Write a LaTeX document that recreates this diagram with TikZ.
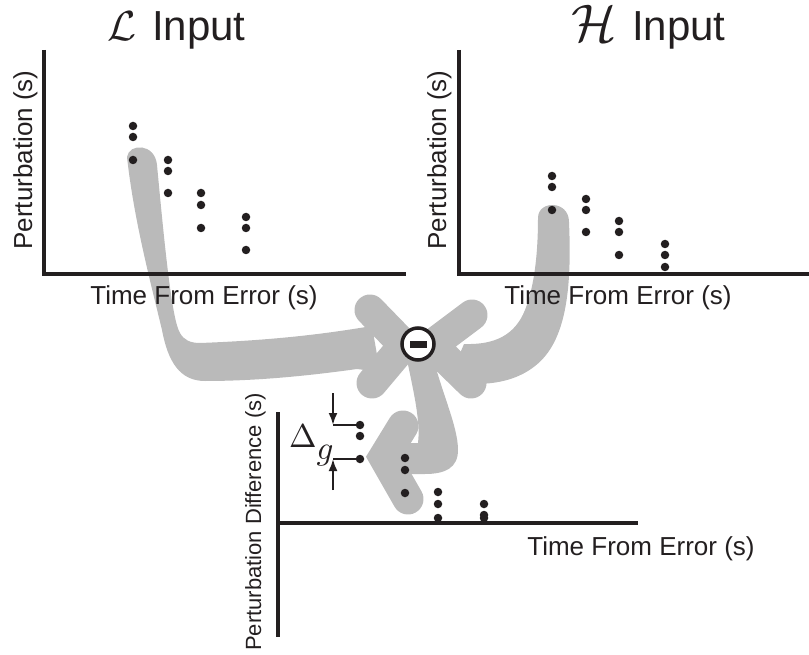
\documentclass[tikz,border=0pt]{standalone}
\usepackage[no-math]{fontspec}
\newfontfamily\lab{Liberation Sans}
\usetikzlibrary{arrows.meta}
\definecolor{ink}{HTML}{231F20}
\definecolor{band}{RGB}{186,186,186}
\begin{document}
\begin{tikzpicture}[x=1pt,y=-1pt,
  dot/.style={circle,fill=ink,inner sep=0pt,minimum size=8.5pt},
  axis/.style={draw=ink,line width=3.5pt,line join=miter},
  lbl/.style={font=\lab\fontsize{26}{30}\selectfont,text=ink,inner sep=0pt},
  smalllbl/.style={font=\lab\fontsize{22}{26}\selectfont,text=ink,inner sep=0pt},
  titlelbl/.style={font=\lab\fontsize{42}{46}\selectfont,text=ink,inner sep=0pt,anchor=base west},
  chev/.style={draw=band,line width=31pt,line cap=round,line join=miter},
  bracket/.style={draw=ink,line width=2.2pt},
  mathlbl/.style={anchor=base west,inner sep=0pt,text=ink},
]
\useasboundingbox (0,0) rectangle (809,655);

% ---------- gray flow arrows (background) ----------
% arrow from L plot
\fill[band] (127,157) .. controls (129,143) and (155,143) .. (157,165)
  .. controls (165,250) and (172,320) .. (180,333)
  .. controls (184,340) and (190,343) .. (200,343)
  .. controls (280,340) and (330,333) .. (372,326)
  -- (380,372) -- (357,369)
  .. controls (300,377) and (250,381) .. (205,381)
  .. controls (180,381) and (168,362) .. (162,330)
  .. controls (150,280) and (134,220) .. (127,157) -- cycle;
\coordinate (c1a) at (370,310);
\coordinate (c1t) at (404,345);
\coordinate (c1b) at (372,383);
\draw[chev] (c1a) -- (c1t) -- (c1b);

% arrow from H plot
\fill[band] (538,218) .. controls (538,200) and (569,200) .. (569,222)
  .. controls (572,290) and (566,342) .. (535,366)
  .. controls (520,378) and (500,384) .. (475,384)
  -- (455,365) -- (464,344)
  .. controls (495,345) and (515,335) .. (525,310)
  .. controls (535,285) and (538,250) .. (538,218) -- cycle;
\coordinate (c2a) at (472,315);
\coordinate (c2t) at (432,345);
\coordinate (c2b) at (471,383);
\draw[chev] (c2a) -- (c2t) -- (c2b);

% arrow to difference plot
\fill[band] (405,350) -- (430,345)
  .. controls (440,390) and (458,425) .. (458,450)
  .. controls (458,468) and (445,474) .. (425,474)
  -- (398,474) -- (398,443) -- (418,443)
  .. controls (421,420) and (412,385) .. (405,350) -- cycle;
\coordinate (c3a) at (403,426);
\coordinate (c3t) at (384,457);
\coordinate (c3b) at (408,499);
\draw[chev] (c3a) -- (c3t) -- (c3b);

% ---------- titles ----------
\node[mathlbl] (tL) at (107,41) {\scalebox{4.2}{$\mathcal{L}$}};
\node[titlelbl] (tLi) at (152,41) {Input};
\node[mathlbl] (tH) at (571,42) {\scalebox{5.3}{$\mathcal{H}$}};
\node[titlelbl] (tHi) at (632,41) {Input};

% ---------- axes ----------
\coordinate (p1top) at (44,50);
\coordinate (p1o) at (44,274);
\coordinate (p1end) at (406,274);
\draw[axis] (p1top) -- (p1o) -- (p1end);

\coordinate (p2top) at (459,50);
\coordinate (p2o) at (459,274);
\coordinate (p2end) at (809,274);
\draw[axis] (p2top) -- (p2o) -- (p2end);

\coordinate (p3top) at (278,412);
\coordinate (p3bot) at (278,637);
\coordinate (p3o) at (278,523);
\coordinate (p3end) at (638,523);
\draw[axis] (p3top) -- (p3bot);
\draw[axis] (p3o) -- (p3end);

% ---------- axis labels ----------
\node[lbl,rotate=90,anchor=base] (yl1) at (32,160) {Perturbation (s)};
\node[lbl,rotate=90,anchor=base] (yl2) at (446,160) {Perturbation (s)};
\node[smalllbl,rotate=90,anchor=base] (yl3) at (261,522) {Perturbation Difference (s)};
\node[lbl,anchor=base] (xl1) at (204,305) {Time From Error (s)};
\node[lbl,anchor=base] (xl2) at (618,305) {Time From Error (s)};
\node[lbl,anchor=base] (xl3) at (641,555) {Time From Error (s)};

% ---------- dots ----------
\foreach \x/\y [count=\i] in {133/126,133/137,133/160,168/160,168/171,168/193,201/193,201/205,201/228,246/217,246/228,246/250}
  \node[dot] (l\i) at (\x,\y) {};
\foreach \x/\y [count=\i] in {552/176,552/187,552/210,586/199,586/210,586/232,619/221,619/232,619/255,665/244,665/255,665/267}
  \node[dot] (h\i) at (\x,\y) {};
\foreach \x/\y [count=\i] in {360/425,360/436,360/459,405/458,405/470,405/493,438/492,438/504,438/518,484/504,484/515,484/518}
  \node[dot] (d\i) at (\x,\y) {};

% ---------- Delta_g marker ----------
\coordinate (ka) at (333,393);
\coordinate (kb) at (333,425);
\coordinate (kc) at (333,490);
\coordinate (kd) at (333,459);
\draw[bracket,-{Latex[length=12pt,width=9pt]}] (ka) -- (kb);
\draw[bracket] (kb) -- (d1.center);
\draw[bracket,-{Latex[length=12pt,width=9pt]}] (kc) -- (kd);
\draw[bracket] (kd) -- (d3.center);
\node[mathlbl] (deltag) at (289,447) {\scalebox{3.3}{$\Delta\lower3.8pt\hbox{$g$}$}};

% ---------- minus junction ----------
\node[circle,draw=ink,line width=3.5pt,fill=white,minimum size=32pt,inner sep=0pt] (minus) at (418,344) {};
\node[fill=ink,minimum width=17pt,minimum height=7pt,inner sep=0pt] (bar) at (minus) {};
\end{tikzpicture}
\end{document}
